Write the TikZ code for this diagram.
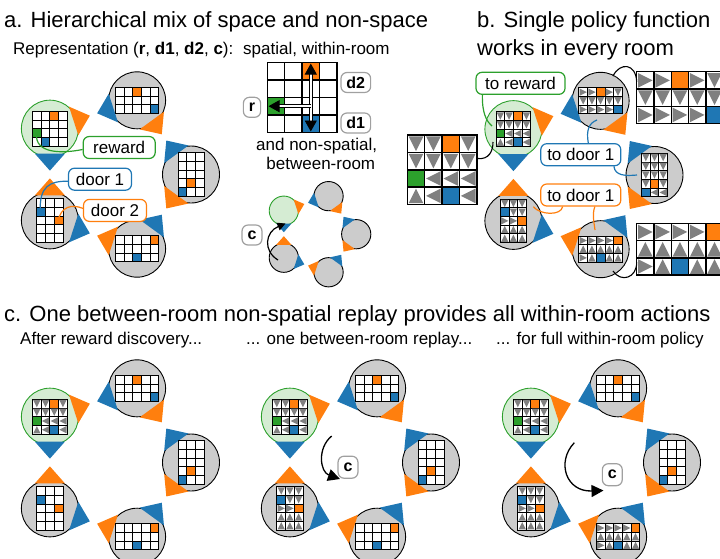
\documentclass[tikz,border=0pt]{standalone}
\usepackage{fontspec}
\setmainfont{Liberation Sans}
\usetikzlibrary{calc,arrows.meta}

\definecolor{doorOrange}{RGB}{255,127,14}
\definecolor{doorBlue}{RGB}{31,119,180}
\definecolor{goalGreen}{RGB}{44,160,44}
\definecolor{goalTint}{RGB}{213,236,211}
\definecolor{roomGray}{RGB}{204,204,204}
\definecolor{policyGray}{RGB}{128,128,128}
\definecolor{tagGray}{RGB}{160,160,160}

\newcommand{\gridlw}{0.9pt}

\tikzset{
  cellframe/.style={draw=black, line width=\gridlw},
  roomdisk/.style={fill=roomGray, draw=black, line width=0.9pt},
  goaldisk/.style={fill=goalTint, draw=goalGreen, line width=0.9pt},
  callout/.style={draw, fill=white, rounded corners=6pt, line width=1.2pt,
    minimum height=22pt, inner xsep=2pt, inner ysep=0pt,
    font=\fontsize{17}{17}\selectfont},
  tag/.style={draw=tagGray, fill=white, rounded corners=6pt, line width=1.2pt,
    minimum height=20pt, inner xsep=5.5pt, inner ysep=0pt,
    font=\bfseries\fontsize{16}{16}\selectfont},
  heading/.style={anchor=base west, inner sep=0pt, font=\fontsize{22}{26}\selectfont},
  caption/.style={anchor=base west, inner sep=0pt, font=\fontsize{17}{20}\selectfont},
  centercap/.style={anchor=base, inner sep=0pt, font=\fontsize{17}{20}\selectfont},
  leader/.style={line width=1.2pt},
  tether/.style={line width=1.1pt, draw=black},
  replay/.style={line width=1.3pt, -{Triangle[length=12pt,width=12pt]}},
  smallreplay/.style={line width=1.2pt, -{Triangle[length=8pt,width=8pt]}},
  shaft/.style={line width=0.9pt, double=white, double distance=1.8pt,
    -{Triangle[length=11pt,width=12pt]}},
}

% ---- grid cells -------------------------------------------------------
\newcommand{\cellkindW}[3]{\filldraw[cellframe, fill=white] (#1,#2) rectangle ++(#3,#3);}
\newcommand{\cellkindO}[3]{\filldraw[cellframe, fill=doorOrange] (#1,#2) rectangle ++(#3,#3);}
\newcommand{\cellkindB}[3]{\filldraw[cellframe, fill=doorBlue] (#1,#2) rectangle ++(#3,#3);}
\newcommand{\cellkindG}[3]{\filldraw[cellframe, fill=goalGreen] (#1,#2) rectangle ++(#3,#3);}
\newcommand{\cellkindD}[3]{\cellkindW{#1}{#2}{#3}%
  \fill[policyGray] (#1+0.08*#3,#2+0.08*#3) -- (#1+0.92*#3,#2+0.08*#3) -- (#1+0.5*#3,#2+0.92*#3) -- cycle;}
\newcommand{\cellkindU}[3]{\cellkindW{#1}{#2}{#3}%
  \fill[policyGray] (#1+0.08*#3,#2+0.92*#3) -- (#1+0.92*#3,#2+0.92*#3) -- (#1+0.5*#3,#2+0.08*#3) -- cycle;}
\newcommand{\cellkindL}[3]{\cellkindW{#1}{#2}{#3}%
  \fill[policyGray] (#1+0.92*#3,#2+0.08*#3) -- (#1+0.92*#3,#2+0.92*#3) -- (#1+0.08*#3,#2+0.5*#3) -- cycle;}
\newcommand{\cellkindR}[3]{\cellkindW{#1}{#2}{#3}%
  \fill[policyGray] (#1+0.08*#3,#2+0.08*#3) -- (#1+0.08*#3,#2+0.92*#3) -- (#1+0.92*#3,#2+0.5*#3) -- cycle;}

% grid with top-left corner #1,#2, cell size #3, #4 columns, cell list macro #5
\newcommand{\gridtl}[5]{%
  \foreach \c [count=\i from 0] in #5 {
    \pgfmathsetmacro{\gx}{#1+mod(\i,#4)*#3}
    \pgfmathsetmacro{\gy}{#2+floor(\i/#4)*#3}
    \csname cellkind\c\endcsname{\gx}{\gy}{#3}
  }}
% small room grid centred on the origin: #1 columns, #2 rows, #3 cell list
\newcommand{\gridc}[3]{\gridtl{-#1*4.35}{-#2*4.35}{8.7}{#1}{#3}}

% ---- five rooms on a ring, with their door wedges ----------------------
\newcommand{\ringshapes}[2]{%
  \coordinate (#1-1) at ({-63.1*#2},{-45.85*#2});
  \coordinate (#1-2) at ({24.1*#2},{-74.18*#2});
  \coordinate (#1-3) at ({78*#2},0);
  \coordinate (#1-4) at ({24.1*#2},{74.18*#2});
  \coordinate (#1-5) at ({-63.1*#2},{45.85*#2});
  \path[goaldisk] (#1-1) circle [radius={28.5*#2}];
  \foreach \k in {2,...,5} {\path[roomdisk] (#1-\k) circle [radius={28.5*#2}];}
  \foreach \k/\nx/\pv in {1/2/5,2/3/1,3/4/2,4/5/3,5/1/4} {
    \fill[doorOrange] ($(#1-\k)!0.458!(#1-\nx)$) -- ($(#1-\k)!0.318!31:(#1-\nx)$)
      -- ($(#1-\k)!0.318!-31:(#1-\nx)$) -- cycle;
    \fill[doorBlue] ($(#1-\k)!0.458!(#1-\pv)$) -- ($(#1-\k)!0.318!31:(#1-\pv)$)
      -- ($(#1-\k)!0.318!-31:(#1-\pv)$) -- cycle;
  }}
\newcommand{\ringgrids}[6]{%
  \begin{scope}[shift={(#1-1)}]\gridc{4}{4}{#2}\end{scope}
  \begin{scope}[shift={(#1-2)}]\gridc{5}{3}{#3}\end{scope}
  \begin{scope}[shift={(#1-3)}]\gridc{3}{5}{#4}\end{scope}
  \begin{scope}[shift={(#1-4)}]\gridc{5}{3}{#5}\end{scope}
  \begin{scope}[shift={(#1-5)}]\gridc{3}{5}{#6}\end{scope}}

% cell contents, row by row
\def\roomAplain{W,W,O,W,W,W,W,W,G,W,W,W,W,B,W,W}
\def\roomAgoal{D,D,O,D,D,D,D,D,G,L,L,L,U,L,B,L}
\def\roomBplain{W,W,O,W,W,W,W,W,W,W,W,W,W,W,B}
\def\roomBgoal{R,R,O,R,D,D,D,D,D,D,R,R,R,R,B}
\def\roomCplain{W,W,W,W,W,W,W,W,W,W,O,W,B,W,W}
\def\roomCgoal{D,D,D,D,D,D,D,D,D,D,O,D,B,L,L}
\def\roomDplain{W,W,W,W,O,W,W,W,W,W,W,W,B,W,W}
\def\roomDgoal{R,R,R,R,O,U,U,U,U,U,R,U,B,U,U}
\def\roomEplain{W,W,W,B,W,W,W,W,O,W,W,W,W,W,W}
\def\roomEgoal{D,D,D,B,D,D,R,R,O,U,U,U,U,U,U}
\def\bigplain{W,W,O,W,W,W,W,W,G,W,W,W,W,W,B,W}

\begin{document}
\begin{tikzpicture}[x=1pt,y=-1pt]
\useasboundingbox (0,0) rectangle (720,558);
\begin{scope}
\clip (0,0) rectangle (720,558);

% ================= panel a =================
\node[heading] (titleA) at (4,27) {a. Hierarchical mix of space and non-space};
\node[caption] (repr) at (13,54.5) {Representation (\textbf{r}, \textbf{d1}, \textbf{d2}, \textbf{c}):};
\node[caption] (spatial) at (243,54.5) {spatial, within-room};

\begin{scope}[shift={(113,174.5)}]
  \ringshapes{a}{1}
  \ringgrids{a}{\roomAplain}{\roomBplain}{\roomCplain}{\roomDplain}{\roomEplain}
\end{scope}

\coordinate (aGreenCell) at (36.5,134);
\coordinate (aBlueCell) at (40.3,212);
\coordinate (aOrangeCell) at (57.7,221.7);
\node[callout, draw=goalGreen, minimum width=72pt] (lblReward) at (119.2,147.5) {reward};
\node[callout, draw=doorBlue, minimum width=63pt] (lblDoorOne) at (100,179.2) {door 1};
\node[callout, draw=doorOrange, minimum width=63pt] (lblDoorTwo) at (115,210.4) {door 2};
\draw[leader, goalGreen] (aGreenCell) .. controls (35,153) and (60,154) .. ($(lblReward.west)+(0,2)$);
\draw[leader, doorBlue] (aBlueCell) .. controls (39,186) and (50,181) .. ($(lblDoorOne.west)+(0,2)$);
\draw[leader, doorOrange] (aOrangeCell) .. controls (61,206) and (72,204) .. ($(lblDoorTwo.west)+(0,-2)$);

% within-room grid with its three vectors
\begin{scope}
  \renewcommand{\gridlw}{1.4pt}
  \gridtl{267.3}{62.7}{17.4}{4}{\bigplain}
\end{scope}
\coordinate (hub) at (310.8,106.2);
\coordinate (tipD2) at (310.8,63.5);
\coordinate (tipD1) at (310.8,131.5);
\coordinate (tipR) at (268.5,106.2);
\draw[shaft] (hub) -- (tipD2);
\draw[shaft] (hub) -- (tipD1);
\draw[shaft] (hub) -- (tipR);
\node[tag] (tagR) at (252,107.3) {r};
\node[tag] (tagDtwo) at (355.8,82.5) {d2};
\node[tag] (tagDone) at (355.8,123) {d1};

\node[centercap] (nonspatial) at (316.7,150) {and non-spatial,};
\node[centercap] (between) at (320.8,169.5) {between-room};

\begin{scope}[shift={(316.2,234.2)}]
  \ringshapes{s}{0.513}
\end{scope}
\node[tag] (tagCa) at (252,235) {c};
\coordinate (cStart) at (278,260);
\coordinate (cEnd) at (285.5,223.5);
\draw[smallreplay] (cStart) .. controls (263,251) and (265,232) .. (cEnd);

% ================= panel b =================
\node[heading] (titleB) at (477,27) {b. Single policy function};
\node[heading] (titleBtwo) at (477,55) {works in every room};

\begin{scope}[shift={(576.5,175)}]
  \ringshapes{b}{1}
  \ringgrids{b}{\roomAgoal}{\roomBgoal}{\roomCgoal}{\roomDgoal}{\roomEgoal}
\end{scope}

\begin{scope}
  \renewcommand{\gridlw}{1.5pt}
  \gridtl{407.3}{135}{17.4}{4}{\roomAgoal}
  \gridtl{636.7}{71.7}{17.3}{5}{\roomBgoal}
  \gridtl{636.7}{223.3}{17.3}{5}{\roomDgoal}
\end{scope}
\coordinate (bigLeftEdge) at (477.3,158.5);
\coordinate (bigTopEdge) at (636.7,82);
\coordinate (bigBotEdge) at (636.7,262);
\coordinate (bGoalRim) at (493,142);
\coordinate (bTopRim) at (613,76);
\coordinate (bBotRim) at (613,271);
\draw[tether] (bigLeftEdge) .. controls (489,160) and (493,151) .. (bGoalRim);
\draw[tether] (bTopRim) .. controls (620,62) and (636,63) .. (bigTopEdge);
\draw[tether] (bBotRim) .. controls (621,283) and (637,278) .. (bigBotEdge);

\node[callout, draw=goalGreen, minimum width=89pt] (lblToReward) at (520.5,83.3) {to reward};
\node[callout, draw=doorBlue, minimum width=80pt] (lblBlue) at (580.8,154.7) {to door 1};
\node[callout, draw=doorOrange, minimum width=80pt] (lblOrange) at (580.8,195) {to door 1};
\coordinate (bGoalIn) at (492,126);
\coordinate (bTopIn) at (597,120);
\coordinate (bRightIn) at (637,175);
\coordinate (bLeftIn) at (533.3,206.7);
\coordinate (bBottomIn) at (595,230);
\draw[leader, goalGreen] ($(lblToReward.south west)+(7,0)$) .. controls (482,112) and (486,121) .. (bGoalIn);
\draw[leader, doorBlue] ($(lblBlue.north)+(7.5,0)$) .. controls (586,130) and (589,123) .. (bTopIn);
\draw[leader, doorBlue] ($(lblBlue.south east)+(-7.5,0)$) .. controls (615,176) and (626,176) .. (bRightIn);
\draw[leader, doorOrange] (bLeftIn) .. controls (540,215) and (561,216) .. ($(lblOrange.south west)+(22.5,0)$);
\draw[leader, doorOrange] ($(lblOrange.south)+(14,0)$) .. controls (592,215) and (594,222) .. (bBottomIn);

% ================= panel c =================
\node[heading] (titleC) at (4,321) {c. One between-room non-spatial replay provides all within-room actions};
\node[caption] (stepOne) at (20,344) {After reward discovery...};
\node[caption] (stepTwo) at (246,344) {... one between-room replay...};
\node[caption] (stepThree) at (496,344) {... for full within-room policy};

\begin{scope}[shift={(113,462.5)}]
  \ringshapes{c}{1}
  \ringgrids{c}{\roomAgoal}{\roomBplain}{\roomCplain}{\roomDplain}{\roomEplain}
\end{scope}
\begin{scope}[shift={(353,462.5)}]
  \ringshapes{d}{1}
  \ringgrids{d}{\roomAgoal}{\roomBplain}{\roomCplain}{\roomDplain}{\roomEgoal}
\end{scope}
\begin{scope}[shift={(594,462.5)}]
  \ringshapes{e}{1}
  \ringgrids{e}{\roomAgoal}{\roomBplain}{\roomCplain}{\roomDgoal}{\roomEgoal}
\end{scope}

\coordinate (dStart) at (331.7,436);
\coordinate (dEnd) at (340,479);
\draw[replay] (dStart) .. controls (317,448) and (320,472) .. (dEnd);
\node[tag, minimum height=22pt] (tagCd) at (348,467.2) {c};
\coordinate (eStart) at (574.3,442.7);
\coordinate (eEnd) at (603.5,490.5);
\draw[replay] (eStart) .. controls (556,462) and (566,492) .. (eEnd);
\node[tag, minimum height=22pt] (tagCe) at (612.3,474.7) {c};

\end{scope}
\end{tikzpicture}
\end{document}
